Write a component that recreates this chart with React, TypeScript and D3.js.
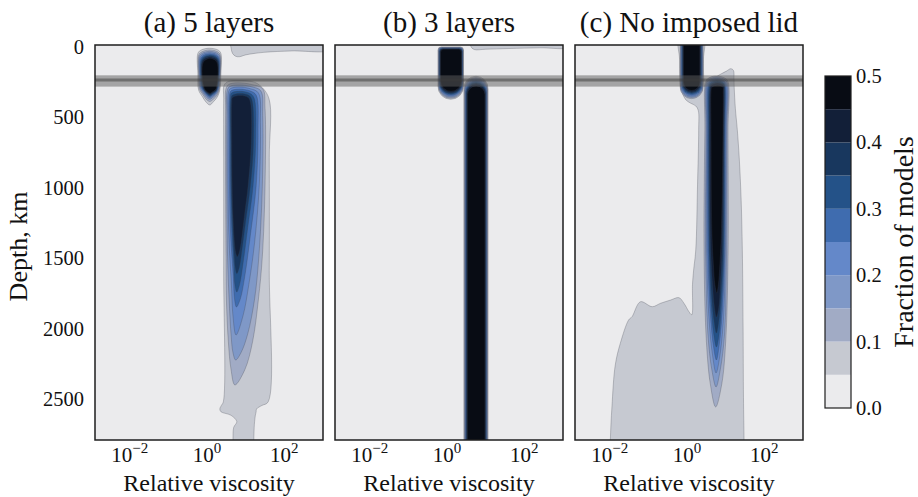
import React from "react";
import * as d3 from "d3";

// Contour levels (fraction of models) and the fill of each band [level_i, level_i+1)
const levels = [0, 0.05, 0.1, 0.15, 0.2, 0.25, 0.3, 0.35, 0.4, 0.45, 0.5];
const levelColors = [
  "#ebebed", "#c6c9d1", "#a1abc5", "#7f98c7", "#6488c9",
  "#3f6caf", "#245288", "#18375e", "#121f38", "#080c14",
];

const panelTitles = ["(a) 5 layers", "(b) 3 layers", "(c) No imposed lid"];
const depthTicks = [0, 500, 1000, 1500, 2000, 2500];
const viscosityTicks = [-2, 0, 2];
const colorbarTicks = [0, 0.1, 0.2, 0.3, 0.4, 0.5];
const depthDomain = [0, 2800];
const viscosityDomain = [-2.9, 3.0]; // log10 relative viscosity
const lidBand = [215, 295]; // km
const lidLine = 248; // km

// Row = [depth km, left log10, right log10]; a 2-tuple [depth, x] is a single tip point.
type Row = number[];
interface RowShape { level: number; rows: Row[] }
interface PtsShape { level: number; pts: [number, number][] }
// Capsule = [level, top depth, bottom depth, left log10, right log10]
type Capsule = [number, number, number, number, number];

// ---------- (a) 5 layers ----------
const lidBlobA: RowShape[] = [
  { level: 0.05, rows: [[23, 0.06], [35, -0.15, 0.28], [57, -0.235, 0.355], [200, -0.24, 0.36], [319, -0.22, 0.33], [366, -0.12, 0.27], [402, -0.035, 0.165], [425, 0.07]] },
  { level: 0.1, rows: [[35, 0.065], [48, -0.13, 0.27], [70, -0.215, 0.34], [200, -0.22, 0.345], [310, -0.2, 0.32], [355, -0.1, 0.26], [385, -0.02, 0.16], [400, 0.07]] },
  { level: 0.15, rows: [[45, 0.066], [58, -0.12, 0.26], [80, -0.2, 0.33], [210, -0.205, 0.335], [305, -0.18, 0.31], [345, -0.09, 0.25], [372, -0.01, 0.15], [385, 0.07]] },
  { level: 0.2, rows: [[54, 0.067], [67, -0.11, 0.25], [90, -0.185, 0.32], [215, -0.19, 0.325], [300, -0.165, 0.3], [338, -0.08, 0.245], [363, 0, 0.145], [375, 0.07]] },
  { level: 0.25, rows: [[62, 0.068], [75, -0.1, 0.245], [98, -0.17, 0.31], [220, -0.175, 0.315], [298, -0.15, 0.29], [333, -0.07, 0.24], [356, 0.005, 0.14], [367, 0.07]] },
  { level: 0.3, rows: [[70, 0.07], [83, -0.09, 0.24], [106, -0.155, 0.3], [230, -0.16, 0.305], [295, -0.135, 0.28], [328, -0.065, 0.235], [350, 0.01, 0.135], [360, 0.07]] },
  { level: 0.35, rows: [[77, 0.072], [91, -0.08, 0.235], [115, -0.14, 0.29], [235, -0.145, 0.295], [292, -0.12, 0.27], [325, -0.06, 0.23], [345, 0.015, 0.13], [354, 0.072]] },
  { level: 0.4, rows: [[85, 0.073], [100, -0.07, 0.23], [125, -0.13, 0.28], [240, -0.13, 0.285], [290, -0.105, 0.26], [322, -0.055, 0.225], [340, 0.02, 0.125], [348, 0.073]] },
  { level: 0.45, rows: [[94, 0.075], [110, -0.06, 0.22], [135, -0.115, 0.27], [245, -0.12, 0.275], [290, -0.09, 0.25], [318, -0.05, 0.215], [335, 0.02, 0.12], [342, 0.075]] },
];

const mantleColumnA: RowShape[] = [
  { level: 0.05, rows: [[252, 0.8], [258, 0.55, 1.15], [285, 0.44, 1.36], [378, 0.43, 1.6], [800, 0.43, 1.61], [1600, 0.43, 1.61], [2530, 0.42, 1.58], [2555, 0.37, 1.42], [2580, 0.33, 1.28], [2600, 0.36, 1.27], [2625, 0.62, 1.25], [2670, 0.77, 1.23], [2710, 0.69, 1.22], [2800, 0.67, 1.21], [2950, 0.67, 1.21]] },
  { level: 0.1, rows: [[268, 0.8], [280, 0.56, 1.15], [310, 0.49, 1.44], [450, 0.48, 1.5], [1000, 0.48, 1.5], [1500, 0.49, 1.43], [1800, 0.5, 1.33], [2100, 0.55, 1.18], [2300, 0.62, 0.98], [2410, 0.72]] },
  { level: 0.15, rows: [[283, 0.81], [295, 0.58, 1.14], [325, 0.52, 1.39], [500, 0.51, 1.44], [1000, 0.51, 1.43], [1500, 0.53, 1.34], [1800, 0.57, 1.23], [2050, 0.62, 1.05], [2180, 0.67, 0.88], [2233, 0.74]] },
  { level: 0.2, rows: [[298, 0.82], [310, 0.6, 1.12], [340, 0.55, 1.33], [550, 0.54, 1.38], [1000, 0.54, 1.35], [1400, 0.57, 1.23], [1700, 0.63, 1.08], [1920, 0.67, 0.93], [2056, 0.75]] },
  { level: 0.25, rows: [[313, 0.83], [325, 0.62, 1.11], [355, 0.58, 1.27], [600, 0.57, 1.32], [1000, 0.58, 1.27], [1350, 0.61, 1.12], [1650, 0.68, 0.97], [1800, 0.71, 0.86], [1857, 0.76]] },
  { level: 0.3, rows: [[328, 0.84], [340, 0.63, 1.09], [370, 0.6, 1.21], [650, 0.6, 1.26], [1000, 0.61, 1.19], [1300, 0.64, 1.05], [1550, 0.69, 0.93], [1700, 0.72, 0.84], [1751, 0.77]] },
  { level: 0.35, rows: [[343, 0.85], [356, 0.65, 1.08], [388, 0.62, 1.16], [700, 0.62, 1.2], [1000, 0.63, 1.12], [1250, 0.66, 1.0], [1480, 0.7, 0.89], [1580, 0.73, 0.83], [1620, 0.77]] },
  { level: 0.4, rows: [[358, 0.86], [372, 0.66, 1.06], [405, 0.64, 1.12], [700, 0.64, 1.14], [1000, 0.65, 1.06], [1200, 0.67, 0.97], [1400, 0.71, 0.88], [1470, 0.74, 0.83], [1500, 0.78]] },
];

const surfaceStripA: PtsShape = {
  level: 0.05,
  pts: [[0.62, -40], [0.62, 20], [0.66, 60], [0.74, 80], [0.84, 83], [1.0, 70], [1.47, 52], [2.2, 42], [3.2, 33], [3.2, -40]],
};

// ---------- (b) 3 layers ----------
const lidBlobB: Capsule[] = [
  [0.05, 14, 385, -0.235, 0.425],
  [0.1, 16, 378, -0.226, 0.418],
  [0.15, 18, 371, -0.218, 0.411],
  [0.2, 20, 364, -0.21, 0.405],
  [0.25, 22, 357, -0.202, 0.399],
  [0.3, 24, 350, -0.195, 0.393],
  [0.35, 26, 343, -0.187, 0.387],
  [0.4, 28, 336, -0.178, 0.38],
  [0.45, 30, 328, -0.168, 0.372],
];

const mantleColumnB: Capsule[] = [
  [0.05, 222, 2950, 0.435, 1.06],
  [0.1, 230, 2950, 0.447, 1.05],
  [0.15, 238, 2950, 0.458, 1.04],
  [0.2, 246, 2950, 0.469, 1.03],
  [0.25, 254, 2950, 0.48, 1.02],
  [0.3, 262, 2950, 0.491, 1.01],
  [0.35, 270, 2950, 0.502, 1.0],
  [0.4, 279, 2950, 0.514, 0.99],
  [0.45, 290, 2950, 0.528, 0.978],
];

const surfaceStripB: PtsShape = {
  level: 0.05,
  pts: [[0.6, -40], [0.62, 12], [0.7, 32], [1.0, 30], [1.6, 25], [2.4, 20], [3.2, 14], [3.2, -40]],
};

// ---------- (c) No imposed lid ----------
const outerRegionC: PtsShape = {
  level: 0.05,
  pts: [
    [-0.2, -60], [-0.195, 100], [-0.19, 230], [-0.17, 296], [-0.12, 342], [-0.035, 388],
    [0.095, 413], [0.225, 432], [0.29, 465], [0.3, 603], [0.27, 1000], [0.225, 1453],
    [0.17, 1595], [0.14, 1700], [0.12, 1912], [0.05, 1891], [-0.08, 1831], [-0.21, 1791],
    [-0.426, 1808], [-0.686, 1831], [-0.902, 1855], [-1.207, 1820], [-1.424, 1926],
    [-1.512, 1949], [-1.728, 2115], [-1.858, 2268], [-1.944, 2564], [-1.985, 2800],
    [-1.99, 2950], [1.48, 2950], [1.475, 2800], [1.46, 2500], [1.45, 2000], [1.43, 1453],
    [1.4, 1100], [1.35, 800], [1.3, 600], [1.25, 450], [1.22, 300], [1.215, 240],
    [1.2, 180], [1.13, 168], [1.02, 185], [0.88, 205], [0.72, 232], [0.56, 265],
    [0.47, 300], [0.43, 220], [0.425, 100], [0.42, -60],
  ],
};

const lidBlobC: Capsule[] = [
  [0.1, -60, 380, -0.18, 0.415],
  [0.15, -60, 372, -0.168, 0.405],
  [0.2, -60, 364, -0.155, 0.395],
  [0.25, -60, 356, -0.143, 0.385],
  [0.3, -60, 348, -0.13, 0.372],
  [0.35, -60, 340, -0.118, 0.36],
  [0.4, -60, 332, -0.105, 0.345],
  [0.45, -60, 322, -0.09, 0.33],
];

const mantleColumnC: RowShape[] = [
  { level: 0.1, rows: [[220, 0.75], [235, 0.55, 0.98], [260, 0.48, 1.06], [600, 0.46, 1.06], [1500, 0.44, 1.06], [2100, 0.5, 1.0], [2400, 0.6, 0.9], [2566, 0.74]] },
  { level: 0.15, rows: [[228, 0.76], [245, 0.57, 0.97], [270, 0.5, 1.04], [600, 0.49, 1.03], [1500, 0.48, 1.02], [2050, 0.54, 0.97], [2300, 0.64, 0.86], [2424, 0.75]] },
  { level: 0.2, rows: [[236, 0.77], [255, 0.58, 0.96], [280, 0.52, 1.02], [600, 0.51, 1.01], [1500, 0.51, 0.99], [1950, 0.57, 0.94], [2200, 0.66, 0.85], [2325, 0.75]] },
  { level: 0.25, rows: [[244, 0.78], [262, 0.59, 0.96], [290, 0.54, 1.0], [600, 0.53, 0.99], [1500, 0.54, 0.97], [1900, 0.6, 0.91], [2130, 0.68, 0.83], [2233, 0.76]] },
  { level: 0.3, rows: [[252, 0.78], [270, 0.6, 0.95], [298, 0.56, 0.98], [600, 0.55, 0.97], [1500, 0.57, 0.95], [1850, 0.62, 0.89], [2050, 0.69, 0.83], [2141, 0.76]] },
  { level: 0.35, rows: [[260, 0.79], [278, 0.61, 0.95], [306, 0.58, 0.97], [600, 0.57, 0.96], [1500, 0.59, 0.93], [1800, 0.64, 0.87], [1960, 0.7, 0.82], [2042, 0.76]] },
  { level: 0.4, rows: [[270, 0.79], [288, 0.62, 0.94], [315, 0.6, 0.95], [600, 0.59, 0.945], [1400, 0.61, 0.91], [1700, 0.66, 0.86], [1860, 0.71, 0.82], [1928, 0.76]] },
  { level: 0.45, rows: [[285, 0.8], [300, 0.64, 0.93], [330, 0.62, 0.935], [600, 0.62, 0.93], [1300, 0.64, 0.89], [1550, 0.68, 0.85], [1700, 0.72, 0.81], [1758, 0.77]] },
];

// ---------- layout ----------
const W = 918;
const H = 497;
const panelLefts = [95, 335, 575];
const panelWidth = 228;
const plotTop = 45;
const plotBottom = 440;
const cbar = { x: 825, w: 26, top: 76, bottom: 408 };
const textStyle = { fontFamily: '"Liberation Serif", "DejaVu Serif", "Times New Roman", serif' };

interface PanelSpec {
  rowShapes: RowShape[];
  ptsShapes: PtsShape[];
  capsules: { list: Capsule[]; rTop: number; rBottom: number }[];
}

const panels: PanelSpec[] = [
  { rowShapes: [...lidBlobA, ...mantleColumnA], ptsShapes: [surfaceStripA], capsules: [] },
  {
    rowShapes: [],
    ptsShapes: [surfaceStripB],
    capsules: [
      { list: lidBlobB, rTop: 3, rBottom: Infinity },
      { list: mantleColumnB, rTop: Infinity, rBottom: 0 },
    ],
  },
  {
    rowShapes: mantleColumnC,
    ptsShapes: [outerRegionC],
    capsules: [{ list: lidBlobC, rTop: 0, rBottom: Infinity }],
  },
];

const fillFor = (level: number) => levelColors[Math.round(level / 0.05)];

function capsulePath(x0: number, x1: number, y0: number, y1: number, rt: number, rb: number) {
  const h = (x1 - x0) / 2;
  const a = Math.min(rt, h);
  const b = Math.min(rb, h);
  return `M${x0},${y0 + a}A${a},${a} 0 0 1 ${x0 + a},${y0}L${x1 - a},${y0}A${a},${a} 0 0 1 ${x1},${y0 + a}` +
    `L${x1},${y1 - b}A${b},${b} 0 0 1 ${x1 - b},${y1}L${x0 + b},${y1}A${b},${b} 0 0 1 ${x0},${y1 - b}Z`;
}

export default function App() {
  const ys = d3.scaleLinear().domain(depthDomain).range([plotTop, plotBottom]);
  const closed = d3.line<[number, number]>().curve(d3.curveCatmullRomClosed.alpha(0.5));
  const cs = d3.scaleLinear().domain([0, 0.5]).range([cbar.bottom, cbar.top]);

  return (
    <svg
      width={W}
      height={H}
      viewBox={`0 0 ${W} ${H}`}
      style={{ position: "absolute", left: 0, top: 0, background: "#ffffff" }}
    >
      {panels.map((p, i) => {
        const x0 = panelLefts[i];
        const xs = d3.scaleLinear().domain(viscosityDomain).range([x0, x0 + panelWidth]);
        const shapes: { level: number; d: string }[] = [];
        p.rowShapes.forEach((s) => {
          const left: [number, number][] = [];
          const right: [number, number][] = [];
          s.rows.forEach((r) => {
            if (r.length === 2) left.push([xs(r[1]), ys(r[0])]);
            else {
              left.push([xs(r[1]), ys(r[0])]);
              right.push([xs(r[2]), ys(r[0])]);
            }
          });
          shapes.push({ level: s.level, d: closed(left.concat(right.reverse())) || "" });
        });
        p.ptsShapes.forEach((s) => {
          shapes.push({ level: s.level, d: closed(s.pts.map(([lx, dep]) => [xs(lx), ys(dep)] as [number, number])) || "" });
        });
        p.capsules.forEach((g) => {
          g.list.forEach(([level, top, bot, l, r]) => {
            shapes.push({ level, d: capsulePath(xs(l), xs(r), ys(top), ys(bot), g.rTop, g.rBottom) });
          });
        });
        shapes.sort((a, b) => a.level - b.level);
        const clipId = `panel-clip-${i}`;
        return (
          <g key={i}>
            <clipPath id={clipId}>
              <rect x={x0} y={plotTop} width={panelWidth} height={plotBottom - plotTop} />
            </clipPath>
            <rect x={x0} y={plotTop} width={panelWidth} height={plotBottom - plotTop} fill={levelColors[0]} />
            <g clipPath={`url(#${clipId})`}>
              {shapes.map((s, k) => (
                <path key={k} d={s.d} fill={fillFor(s.level)} stroke="#3a3d48" strokeWidth={0.5} strokeOpacity={0.55} />
              ))}
              <rect
                x={x0}
                y={ys(lidBand[0])}
                width={panelWidth}
                height={ys(lidBand[1]) - ys(lidBand[0])}
                fill="#5e5e5e"
                fillOpacity={0.5}
              />
              <line x1={x0} x2={x0 + panelWidth} y1={ys(lidLine)} y2={ys(lidLine)} stroke="#3a3a3a" strokeWidth={3} strokeOpacity={0.5} />
            </g>
            <rect x={x0} y={plotTop} width={panelWidth} height={plotBottom - plotTop} fill="none" stroke="#1e1e1e" strokeWidth={1.5} />
            <text x={x0 + panelWidth / 2} y={32} textAnchor="middle" fontSize={29} fill="#111" style={textStyle}>
              {panelTitles[i]}
            </text>
            {viscosityTicks.map((t) => (
              <text key={t} x={xs(t)} y={462} textAnchor="middle" fontSize={21} fill="#111" style={textStyle}>
                <tspan>10</tspan>
                <tspan dy={-9} fontSize={15}>{t < 0 ? `\u2212${-t}` : `${t}`}</tspan>
              </text>
            ))}
            <text x={x0 + panelWidth / 2} y={491} textAnchor="middle" fontSize={24} fill="#111" style={textStyle}>
              Relative viscosity
            </text>
          </g>
        );
      })}

      {depthTicks.map((t) => (
        <text key={t} x={84} y={ys(t) + 8.5} textAnchor="end" fontSize={20.5} fill="#111" style={textStyle}>
          {t}
        </text>
      ))}
      <text transform={`translate(27,${(plotTop + plotBottom) / 2 + 4}) rotate(-90)`} textAnchor="middle" fontSize={26} fill="#111" style={textStyle}>
        Depth, km
      </text>

      {levelColors.map((c, k) => (
        <rect key={k} x={cbar.x} y={cs(levels[k + 1])} width={cbar.w} height={cs(levels[k]) - cs(levels[k + 1])} fill={c} />
      ))}
      <rect x={cbar.x} y={cbar.top} width={cbar.w} height={cbar.bottom - cbar.top} fill="none" stroke="#1e1e1e" strokeWidth={1.2} />
      {colorbarTicks.map((t) => (
        <text key={t} x={856} y={cs(t) + 7} fontSize={20.5} fill="#111" style={textStyle}>
          {t.toFixed(1)}
        </text>
      ))}
      <text transform={`translate(913,${(cbar.top + cbar.bottom) / 2}) rotate(-90)`} textAnchor="middle" fontSize={28} fill="#111" style={textStyle}>
        Fraction of models
      </text>
    </svg>
  );
}
